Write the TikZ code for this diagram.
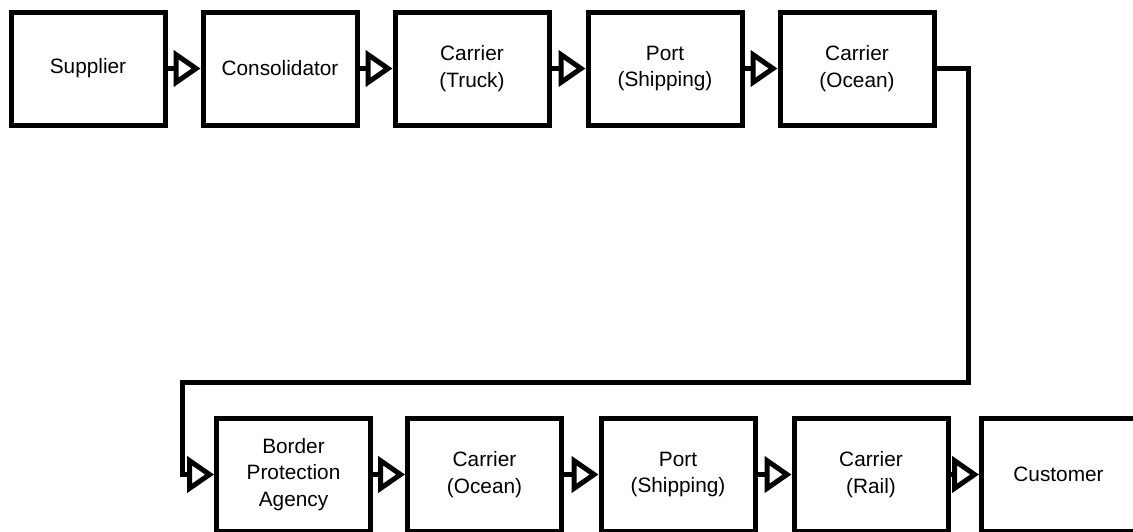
\documentclass[tikz,border=0pt]{standalone}
\usepackage{fontspec}
\setmainfont{Liberation Sans}
\usetikzlibrary{arrows.meta}
\tikzset{
  stage/.style={draw, line width=2.5pt, minimum width=77pt, minimum height=56.5pt,
    inner sep=0pt, align=center, font=\fontsize{10.4pt}{13.4pt}\selectfont},
  flow/.style={line width=2.5pt, -{Triangle[open, length=13.5pt, width=18pt]}},
}
\begin{document}
\begin{tikzpicture}[x=0.5pt, y=-0.5pt]
\useasboundingbox (0,0) rectangle (1133,531);
\clip (0,0) rectangle (1133,531);
\def\yA{68.5};
\def\yB{474.5};
% first leg
\node[stage] (supplier) at (88,\yA) {Supplier};
\node[stage] (consol) at (280,\yA) {Consolidator};
\node[stage] (truck) at (472,\yA) {Carrier\\(Truck)};
\node[stage] (portA) at (665,\yA) {Port\\(Shipping)};
\node[stage] (oceanA) at (857,\yA) {Carrier\\(Ocean)};
% second leg
\node[stage] (border) at (293.5,\yB) {Border\\Protection\\Agency};
\node[stage] (oceanB) at (484.5,\yB) {Carrier\\(Ocean)};
\node[stage] (portB) at (678,\yB) {Port\\(Shipping)};
\node[stage] (rail) at (871,\yB) {Carrier\\(Rail)};
\node[stage] (customer) at (1058.5,\yB) {Customer};
\foreach \a/\b in {supplier/consol,consol/truck,truck/portA,portA/oceanA,
  border/oceanB,oceanB/portB,portB/rail,rail/customer}
  \draw[flow] (\a) -- (\b);
% turn back to the second row
\coordinate (turnA) at (968,\yA);
\coordinate (turnB) at (968,382);
\coordinate (turnC) at (182,382);
\coordinate (turnD) at (182,\yB);
\draw[flow] (oceanA.east) -- (turnA) -- (turnB) -- (turnC) -- (turnD) -- (border.west);
\end{tikzpicture}
\end{document}
